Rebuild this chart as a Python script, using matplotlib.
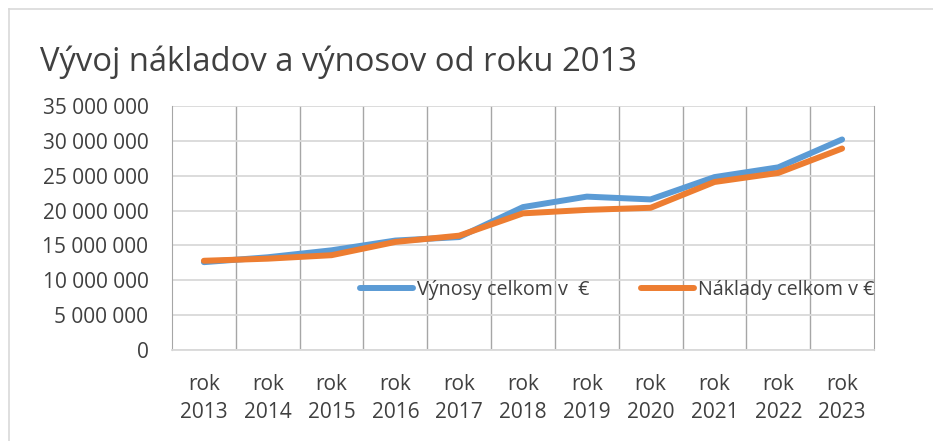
#!/usr/bin/env python3
# -*- coding: utf-8 -*-

"""Vývoj nákladov a výnosov od roku 2013."""

import matplotlib
matplotlib.use("Agg")
import matplotlib.pyplot as plt
from matplotlib.lines import Line2D
from matplotlib.ticker import FuncFormatter, MultipleLocator

YEARS = ["rok\n2013", "rok\n2014", "rok\n2015", "rok\n2016", "rok\n2017", "rok\n2018",
         "rok\n2019", "rok\n2020", "rok\n2021", "rok\n2022", "rok\n2023"]
VYNOSY = [12.6e6, 13.3e6, 14.3e6, 15.7e6, 16.2e6, 20.5e6,
          22.0e6, 21.6e6, 24.8e6, 26.2e6, 30.2e6]
NAKLADY = [12.8e6, 13.1e6, 13.6e6, 15.5e6, 16.4e6, 19.6e6,
           20.1e6, 20.4e6, 24.1e6, 25.4e6, 28.9e6]

TITLE = "Vývoj nákladov a výnosov od roku 2013"
LABEL_V = "Výnosy celkom v  €"
LABEL_N = "Náklady celkom v €"

BLUE = "#5B9BD5"
ORANGE = "#ED7D31"
TEXT = "#404040"

plt.rcParams["font.family"] = ["Open Sans", "DejaVu Sans"]


def fmt_space(v, pos):
    """Thousands separated by spaces."""
    return "{:,.0f}".format(v).replace(",", " ")


def main():
    """Main function."""
    fig = plt.figure(figsize=(9.33, 4.41), dpi=100)
    ax = fig.add_axes([172 / 933, 1 - 350 / 441, 702 / 933, 244 / 441])

    x = range(len(YEARS))
    ax.plot(x, VYNOSY, color=BLUE, lw=4.3, solid_capstyle="round",
            solid_joinstyle="round", label=LABEL_V)
    ax.plot(x, NAKLADY, color=ORANGE, lw=4.3, solid_capstyle="round",
            solid_joinstyle="round", label=LABEL_N)

    ax.set_xlim(-0.5, len(YEARS) - 0.5)
    ax.set_ylim(0, 35e6)
    ax.set_xticks(list(x))
    ax.set_xticklabels(YEARS, fontsize=15, color=TEXT, linespacing=1.48)
    ax.yaxis.set_major_locator(MultipleLocator(5e6))
    ax.yaxis.set_major_formatter(FuncFormatter(fmt_space))
    ax.tick_params(axis="y", length=0, pad=17, labelsize=15, labelcolor=TEXT)
    ax.tick_params(axis="x", length=0, pad=17)

    ax.set_xticks([i + 0.5 for i in range(len(YEARS) - 1)], minor=True)
    ax.tick_params(which="minor", length=0)
    ax.grid(axis="y", which="major", color="#d9d9d9", lw=1.3)
    ax.grid(axis="x", which="minor", color="#a6a6a6", lw=1.0)
    ax.set_axisbelow(True)

    ax.spines["top"].set_visible(False)
    ax.spines["bottom"].set_color("#d9d9d9")
    ax.spines["bottom"].set_linewidth(1.3)
    ax.spines["left"].set_color("#a6a6a6")
    ax.spines["right"].set_color("#a6a6a6")

    ax.legend(loc="center", bbox_to_anchor=(0.634, 0.246), ncol=2, frameon=False,
              fontsize=14.2, labelcolor=TEXT, handlelength=2.7, handletextpad=0.2,
              columnspacing=2.6, borderaxespad=0)

    fig.text(40 / 933, 1 - 62 / 441, TITLE, fontsize=23.6, color=TEXT, va="center")

    # chart frame (only top and left edges visible)
    fig.add_artist(Line2D([9 / 933, 1], [1 - 9 / 441, 1 - 9 / 441],
                          transform=fig.transFigure, color="#d9d9d9", lw=1.2))
    fig.add_artist(Line2D([9 / 933, 9 / 933], [0, 1 - 9 / 441],
                          transform=fig.transFigure, color="#d9d9d9", lw=1.2))

    fig.savefig("out.png", dpi=100)


if __name__ == "__main__":
    main()
